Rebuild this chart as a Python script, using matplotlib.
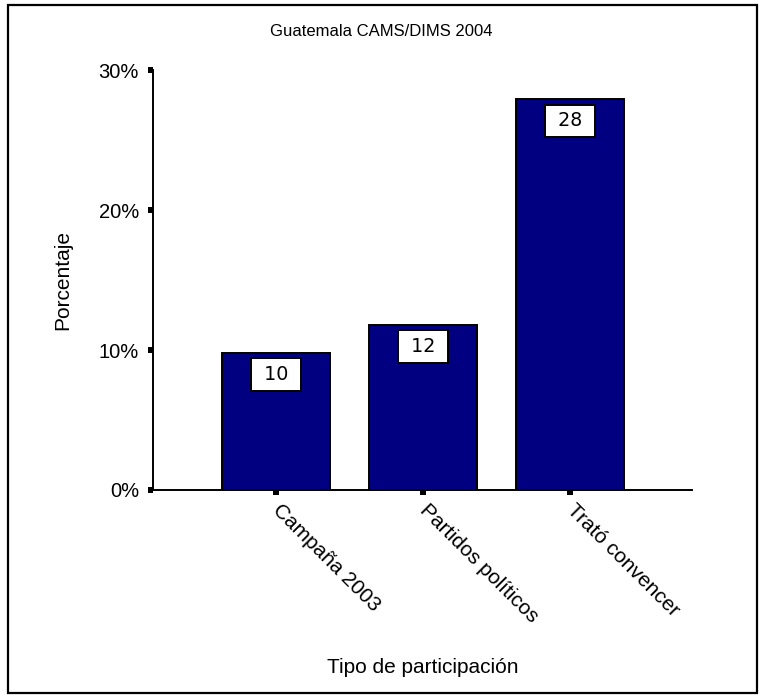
import matplotlib
matplotlib.use("Agg")
import matplotlib.pyplot as plt
from matplotlib.patches import Rectangle

# Data
categories = ["Campaña 2003", "Partidos políticos", "Trató convencer"]
values = [9.8, 11.8, 27.9]
value_labels = ["10", "12", "28"]
y_ticks = [0, 10, 20, 30]
y_tick_labels = ["0%", "10%", "20%", "30%"]

plt.rcParams['font.family'] = ['Liberation Sans', 'DejaVu Sans']

fig = plt.figure(figsize=(7.62, 6.98), dpi=100)
ax = fig.add_axes([0.2008, 0.298, 0.7072, 0.6017])

x = range(len(categories))
ax.bar(x, values, width=0.74, color='#000080', edgecolor='black', linewidth=1.4, zorder=2)

for xi, v, lab in zip(x, values, value_labels):
    ax.annotate(" " + lab + " ", xy=(xi, v), xytext=(0, -15.5), textcoords='offset points',
                ha='center', va='center', fontsize=13.8, family='DejaVu Sans', zorder=3,
                bbox=dict(boxstyle='square,pad=0.35', facecolor='white', edgecolor='black',
                          linewidth=1.4))

ax.set_xlim(-0.837, 2.83)
ax.set_ylim(0, 30)
ax.set_yticks(y_ticks)
ax.set_yticklabels(y_tick_labels, fontsize=14.5)
ax.set_xticks(list(x))
ax.set_xticklabels(categories, fontsize=15, rotation=-45, ha='left', va='center',
                   rotation_mode='anchor')

ax.spines['top'].set_visible(False)
ax.spines['right'].set_visible(False)
ax.spines['left'].set_linewidth(1.4)
ax.spines['bottom'].set_linewidth(1.4)
ax.tick_params(axis='both', direction='out', length=3.6, width=4.3, color='black')
ax.tick_params(axis='y', pad=6.5)
ax.tick_params(axis='x', pad=9)

ax.set_ylabel("Porcentaje", fontsize=15)
ax.yaxis.set_label_coords(-0.150, 0.5)
ax.set_xlabel("Tipo de participación", fontsize=15)
ax.xaxis.set_label_coords(0.5, -0.40)

fig.text(0.5, 1 - 32 / 698, "Guatemala CAMS/DIMS 2004", ha='center', va='center',
         fontsize=12, family=['Liberation Sans Narrow', 'Liberation Sans'])

# outer frame around the whole chart
fig.patches.append(Rectangle((8 / 762, 5 / 698), 749 / 762, 688 / 698, transform=fig.transFigure,
                             fill=False, edgecolor='black', linewidth=1.6))

fig.savefig("out.png", dpi=100)
